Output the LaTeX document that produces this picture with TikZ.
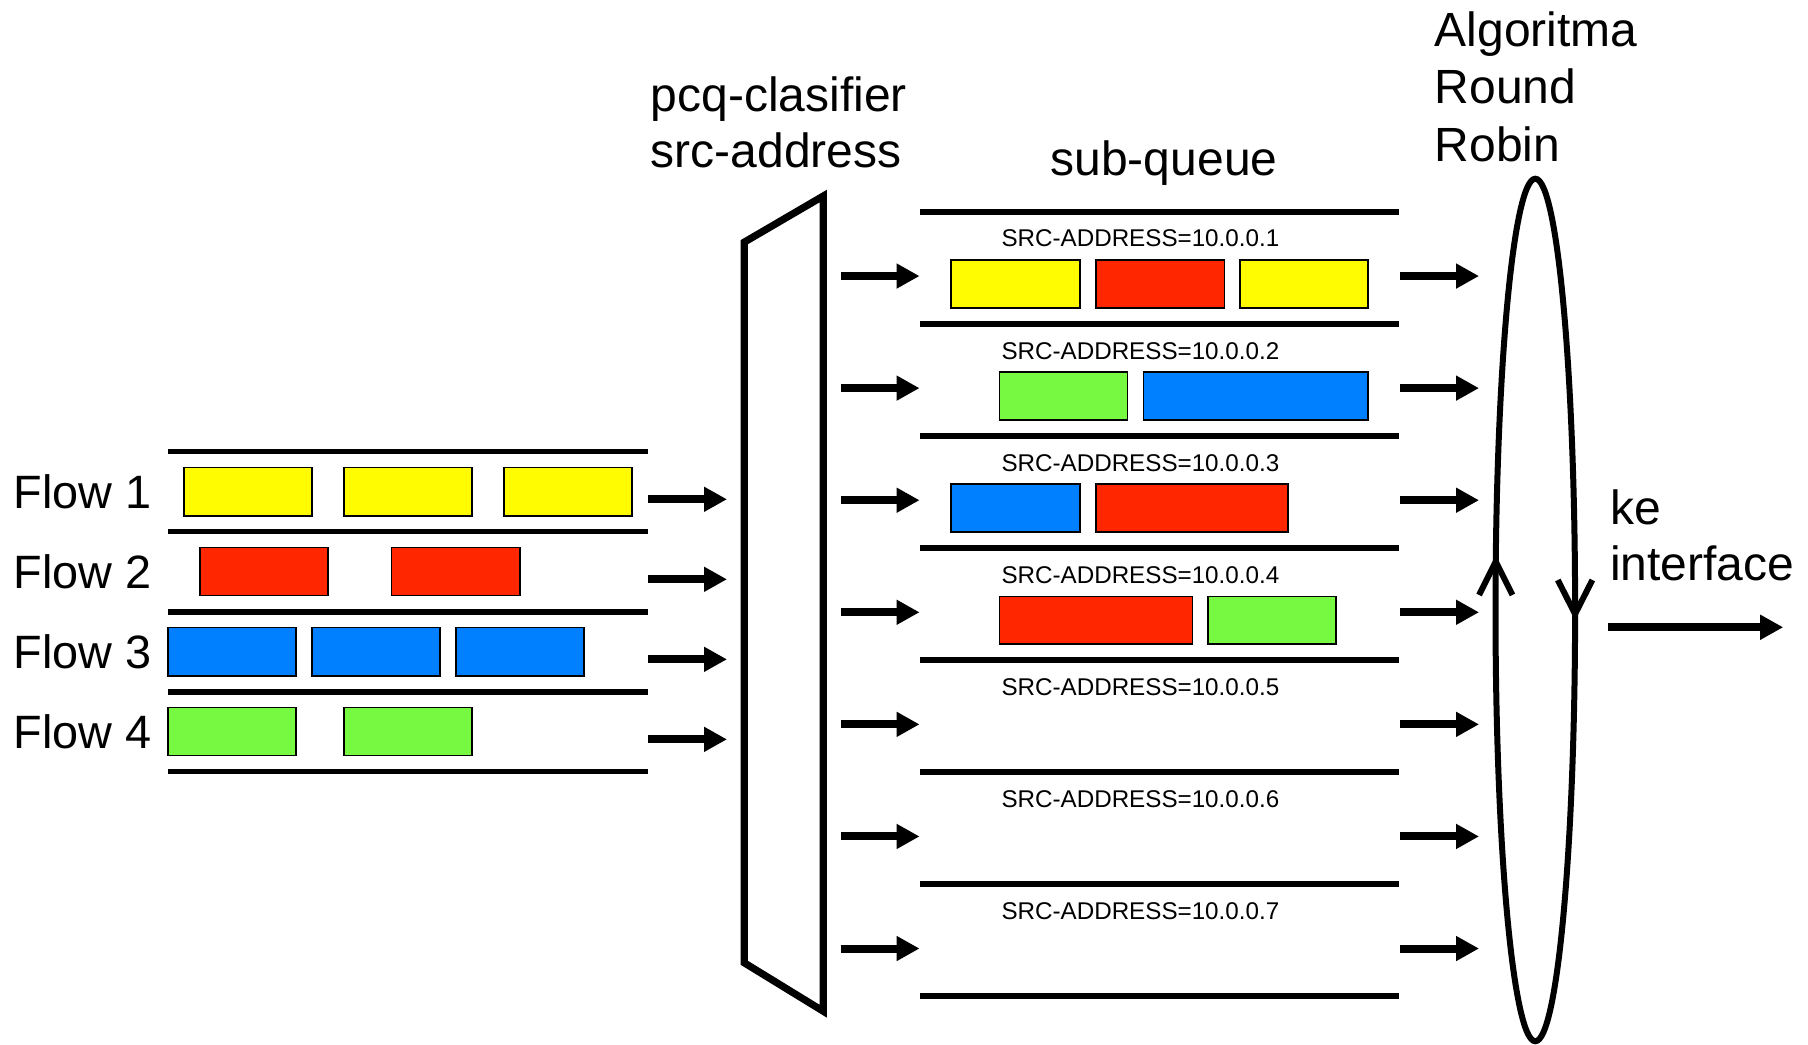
\documentclass[tikz,border=0pt]{standalone}
\usepackage{fontspec}
\setmainfont{Liberation Sans}
\usetikzlibrary{arrows.meta,fit,shapes.geometric}
\definecolor{pyel}{HTML}{FFFB00}
\definecolor{pred}{HTML}{FF2600}
\definecolor{pblu}{HTML}{0080FF}
\definecolor{pgrn}{HTML}{76F940}
\begin{document}
\begin{tikzpicture}[x=0.5766pt, y=-0.5766pt,
  rail/.style={line width=2.8pt},
  pkt/.style={draw=black, line width=0.75pt, inner sep=0pt, fit={#1}},
  flowarrow/.style={line width=4pt, -{Triangle[length=11.5pt,width=11.8pt]}},
  big/.style={font=\fontsize{24}{28}\selectfont, inner sep=0pt, anchor=base west},
  flowlbl/.style={font=\fontsize{23.4}{28}\selectfont, inner sep=0pt, anchor=base west},
  small/.style={font=\fontsize{12.1}{14}\selectfont, inner sep=0pt, anchor=base},
  vtip/.style={line width=3pt, line cap=butt, line join=miter}
]
\useasboundingbox (0,0) rectangle (1568,906);

% ---------- left: flows ----------
\foreach \k/\y in {0/391.7,1/461.1,2/530.5,3/599.9,4/669.2}{
  \coordinate (fla\k) at (146,\y);
  \coordinate (flb\k) at (562,\y);
  \draw[rail] (fla\k) -- (flb\k);
}
\node[flowlbl] (f1) at (11.5,440.8) {Flow 1};
\node[flowlbl] (f2) at (11.5,510.2) {Flow 2};
\node[flowlbl] (f3) at (11.5,579.6) {Flow 3};
\node[flowlbl] (f4) at (11.5,649) {Flow 4};

\node[pkt={(159.6,405.6) (270.6,447.5)}, fill=pyel] (p11) {};
\node[pkt={(298.4,405.6) (409.3,447.5)}, fill=pyel] (p12) {};
\node[pkt={(437.2,405.6) (548.2,447.5)}, fill=pyel] (p13) {};
\node[pkt={(173.5,474.8) (284.5,516.6)}, fill=pred] (p21) {};
\node[pkt={(339.7,474.8) (451,516.6)}, fill=pred] (p22) {};
\node[pkt={(145.7,544.3) (256.7,586.1)}, fill=pblu] (p31) {};
\node[pkt={(270.6,544.3) (381.5,586.1)}, fill=pblu] (p32) {};
\node[pkt={(395.4,544.3) (506.6,586.1)}, fill=pblu] (p33) {};
\node[pkt={(145.7,613.7) (256.7,655.4)}, fill=pgrn] (p41) {};
\node[pkt={(298.4,613.7) (409.3,655.4)}, fill=pgrn] (p42) {};

\foreach \i/\y in {1/433,2/502.4,3/571.8,4/641.2}{
  \coordinate (fa\i) at (562,\y);
  \coordinate (fb\i) at (630.5,\y);
  \draw[flowarrow] (fa\i) -- (fb\i);
}

% ---------- classifier ----------
\node[big] (cl1) at (564,96.5) {pcq-clasifier};
\node[big] (cl2) at (564,145) {src-address};
\coordinate (c1) at (645.5,210);
\coordinate (c2) at (714,170);
\coordinate (c3) at (714,877);
\coordinate (c4) at (645.5,835);
\draw[line width=3.6pt, line join=miter] (c1) -- (c2) -- (c3) -- (c4) -- cycle;

% ---------- sub-queues ----------
\node[big, anchor=base] (sq) at (1009.5,152) {sub-queue};
\foreach \k in {0,...,7}{
  \pgfmathsetmacro\yy{183.6+97.2*\k}
  \coordinate (qa\k) at (798,\yy);
  \coordinate (qb\k) at (1213,\yy);
  \draw[rail] (qa\k) -- (qb\k);
}
\foreach \i in {1,...,7}{
  \pgfmathsetmacro\yl{183.6+97.2*(\i-1)+30.6}
  \pgfmathsetmacro\ya{239.4+97.2*(\i-1)}
  \node[small] (src\i) at (989,\yl) {SRC-ADDRESS=10.0.0.\i};
  \coordinate (ca\i) at (729,\ya);
  \coordinate (cb\i) at (797.5,\ya);
  \draw[flowarrow] (ca\i) -- (cb\i);
  \coordinate (ra\i) at (1214,\ya);
  \coordinate (rb\i) at (1282.7,\ya);
  \draw[flowarrow] (ra\i) -- (rb\i);
}

\node[pkt={(824.7,225.5) (936.6,267)}, fill=pyel] (q11) {};
\node[pkt={(950.5,225.5) (1062,267)}, fill=pred] (q12) {};
\node[pkt={(1075.5,225.5) (1186.5,267)}, fill=pyel] (q13) {};
\node[pkt={(866.8,322.7) (978,364.2)}, fill=pgrn] (q21) {};
\node[pkt={(991.8,322.7) (1186.5,364.2)}, fill=pblu] (q22) {};
\node[pkt={(824.7,419.9) (936.6,461.4)}, fill=pblu] (q31) {};
\node[pkt={(950.5,419.9) (1117,461.4)}, fill=pred] (q32) {};
\node[pkt={(866.8,517.1) (1034,558.6)}, fill=pred] (q41) {};
\node[pkt={(1047.5,517.1) (1158.5,558.6)}, fill=pgrn] (q42) {};

% ---------- round robin ----------
\node[big] (rr1) at (1244,40) {Algoritma};
\node[big] (rr2) at (1244,90) {Round};
\node[big] (rr3) at (1244,140) {Robin};
\node[draw, ellipse, line width=3pt, inner sep=0pt,
      minimum width=39.8pt, minimum height=431.3pt] (rr) at (1331.5,529) {};
\coordinate (up) at (1297.2,487);
\coordinate (dn) at (1366,532.5);
\draw[vtip] ([shift={(-14.5,29)}]up) -- (up) -- ([shift={(14.5,29)}]up);
\draw[vtip] ([shift={(-15,-29.5)}]dn) -- (dn) -- ([shift={(15,-29.5)}]dn);

% ---------- output ----------
\node[big] (ke1) at (1396,455) {ke};
\node[big] (ke2) at (1396,503) {interface};
\coordinate (oa) at (1394.5,544);
\coordinate (ob) at (1546.5,544);
\draw[flowarrow] (oa) -- (ob);
\end{tikzpicture}
\end{document}
